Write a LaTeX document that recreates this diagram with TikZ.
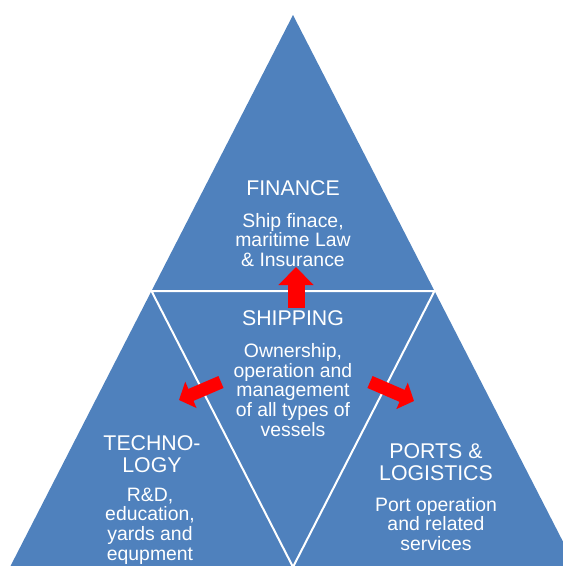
\documentclass[tikz,border=0pt]{standalone}
\usepackage{fontspec}
\setmainfont{Liberation Sans}
\usepackage{xcolor}
\usepackage{tikz}
\usetikzlibrary{shapes,arrows.meta,positioning,calc}

\definecolor{pyrblue}{RGB}{79,129,189}

\begin{document}
\begin{tikzpicture}[x=1pt,y=-1pt,
    heading/.style={text=white, align=center, font=\fontsize{21.3}{22}\selectfont},
    detail/.style={text=white, align=center, font=\fontsize{19.4}{19.7}\selectfont},
    bigarrow/.style={red, line width=17pt, -{Triangle[length=18pt,width=34pt]}},
    sidearrow/.style={red, line width=13pt, -{Triangle[length=13pt,width=28pt]}}]
    % Frame
    \useasboundingbox (0,0) rectangle (563,566);
    \clip (0,0) rectangle (563,566);

    % Pyramid
    \coordinate (top) at (293,15);
    \coordinate (bl) at (10,567);
    \coordinate (br) at (576,567);
    \coordinate (ml) at ($(top)!0.5!(bl)$);
    \coordinate (mr) at ($(top)!0.5!(br)$);
    \coordinate (mb) at ($(bl)!0.5!(br)$);
    \fill[pyrblue] (top) -- (bl) -- (br) -- cycle;
    \draw[white, line width=2pt] (ml) -- (mr) -- (mb) -- cycle;

    % Finance
    \node[heading] (fin) at (293,188) {FINANCE};
    \node[detail] (findesc) at (293,240) {Ship finace,\\maritime Law\\\& Insurance};

    % Shipping
    \node[heading] (ship) at (293,318) {SHIPPING};
    \node[detail] (shipdesc) at (293,390) {Ownership,\\operation and\\management\\of all types of\\vessels};

    % Technology
    \node[heading] (tech) at (152,454) {TECHNO-\\LOGY};
    \node[detail] (techdesc) at (150,526) {R\&D,\\education,\\yards and\\equpment};

    % Ports
    \node[heading] (port) at (436,462) {PORTS \&\\LOGISTICS};
    \node[detail] (portdesc) at (436,524) {Port operation\\and related\\services};

    % Arrows
    \coordinate (uptail) at (296,308);
    \coordinate (uptip) at (296,267);
    \coordinate (lefttail) at (221,382);
    \coordinate (lefttip) at (179,400);
    \coordinate (righttail) at (370,382);
    \coordinate (righttip) at (414,401);
    \draw[bigarrow] (uptail) -- (uptip);
    \draw[sidearrow] (lefttail) -- (lefttip);
    \draw[sidearrow] (righttail) -- (righttip);
\end{tikzpicture}
\end{document}
